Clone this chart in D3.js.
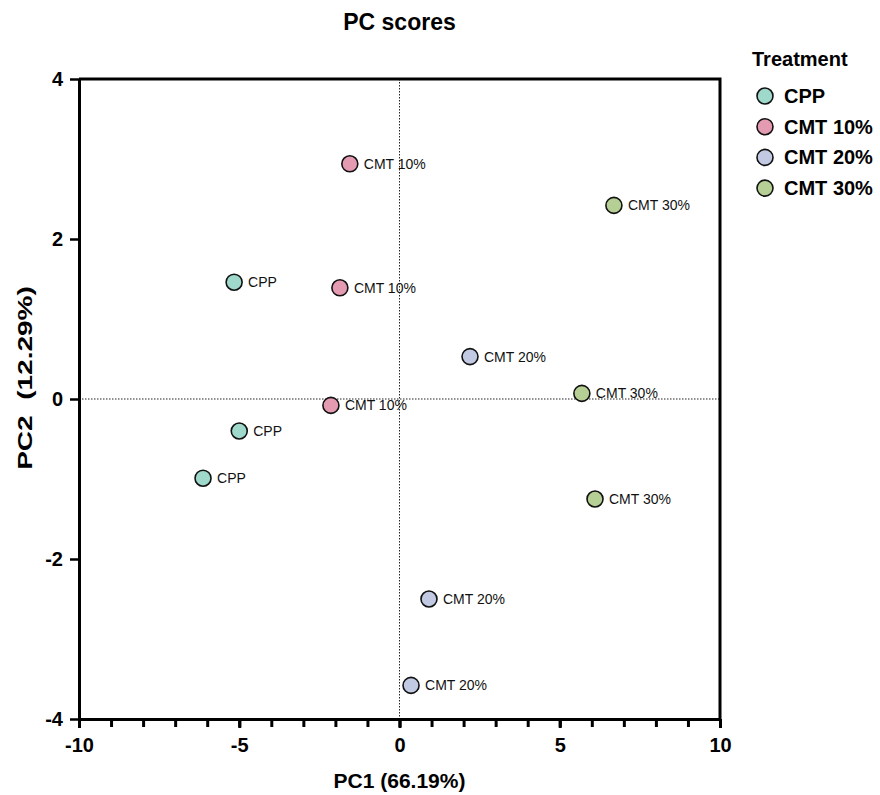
<!DOCTYPE html>
<html lang="en">
<head>
<meta charset="UTF-8">
<title>PC scores</title>
<script src="https://cdn.jsdelivr.net/npm/d3@7"></script>
<style>
  body { margin: 0; background: #fff; font-family: "Liberation Sans", Arial, sans-serif; }
</style>
</head>
<body>
<div id="chart"></div>
<script>
// Data
var groups = ["CPP", "CMT 10%", "CMT 20%", "CMT 30%"];
var colors = ["#9fd9cc", "#e49ab0", "#c2c9e3", "#b5cf94"];
var pointGroup = ["CPP", "CPP", "CPP",
                  "CMT 10%", "CMT 10%", "CMT 10%",
                  "CMT 20%", "CMT 20%", "CMT 20%",
                  "CMT 30%", "CMT 30%", "CMT 30%"];
var pc1 = [-5.16, -5.0, -6.13, -1.55, -1.86, -2.14, 2.2, 0.92, 0.36, 6.69, 5.69, 6.1];
var pc2 = [1.46, -0.4, -0.99, 2.94, 1.39, -0.08, 0.53, -2.5, -3.58, 2.42, 0.07, -1.25];
var xTicks = [-10, -5, 0, 5, 10];
var yTicks = [-4, -2, 0, 2, 4];

var W = 880, H = 795;
var margin = {top: 79, left: 79, right: 160, bottom: 76};
var width = W - margin.left - margin.right;
var height = H - margin.top - margin.bottom;

var svg = d3.select("#chart").append("svg")
    .attr("width", W).attr("height", H);

var g = svg.append("g")
    .attr("transform", "translate(" + margin.left + "," + margin.top + ")");

var x = d3.scaleLinear().domain([-10, 10]).range([0, width]);
var y = d3.scaleLinear().domain([-4, 4]).range([height, 0]);
var color = d3.scaleOrdinal().domain(groups).range(colors);

// zero lines (dotted)
g.append("line")
    .attr("x1", x(0)).attr("x2", x(0)).attr("y1", 0).attr("y2", height)
    .attr("stroke", "#222").attr("stroke-width", 1).attr("stroke-dasharray", "1.5,1.5");
g.append("line")
    .attr("x1", 0).attr("x2", width).attr("y1", y(0)).attr("y2", y(0))
    .attr("stroke", "#222").attr("stroke-width", 1).attr("stroke-dasharray", "1.5,1.5");

// frame top + right
g.append("path")
    .attr("d", "M0,0H" + width + "V" + height)
    .attr("fill", "none").attr("stroke", "#000").attr("stroke-width", 3);

var fmt = function (d) { return String(d); };

// x axis: minor ticks each unit, major labels every 5
var xMinor = g.append("g")
    .attr("transform", "translate(0," + height + ")")
    .call(d3.axisBottom(x).ticks(20).tickSize(8).tickFormat(""));
xMinor.select(".domain").remove();
xMinor.selectAll("line").attr("stroke-width", 3);

var xAxis = g.append("g")
    .attr("transform", "translate(0," + height + ")")
    .call(d3.axisBottom(x).tickValues(xTicks).tickFormat(fmt).tickSize(9).tickPadding(10).tickSizeOuter(0));
xAxis.select(".domain").attr("stroke-width", 3);
xAxis.selectAll("line").attr("stroke-width", 3);
xAxis.selectAll("text")
    .style("font-family", "Liberation Sans, Arial, sans-serif")
    .style("font-size", "20px").style("font-weight", "bold").attr("fill", "#000");

var yAxis = g.append("g")
    .call(d3.axisLeft(y).tickValues(yTicks).tickFormat(fmt).tickSize(9).tickPadding(7).tickSizeOuter(0));
yAxis.select(".domain").attr("stroke-width", 3);
yAxis.selectAll("line").attr("stroke-width", 2.5);
yAxis.selectAll("text")
    .style("font-family", "Liberation Sans, Arial, sans-serif")
    .style("font-size", "20px").style("font-weight", "bold").attr("fill", "#000");

// axis titles
g.append("text")
    .attr("x", width / 2).attr("y", height + 69)
    .attr("text-anchor", "middle")
    .style("font-size", "21px").style("font-weight", "bold")
    .text("PC1 (66.19%)");

// the reference y title is drawn stretched along its length
g.append("text")
    .attr("transform", "translate(-47,299) rotate(-90) scale(1.4,1)")
    .attr("text-anchor", "middle")
    .style("font-size", "20px").style("font-weight", "bold")
    .style("white-space", "pre")
    .text("PC2  (12.29%)");

// title
svg.append("text")
    .attr("x", margin.left + width / 2).attr("y", 30)
    .attr("text-anchor", "middle")
    .style("font-size", "23px").style("font-weight", "bold")
    .text("PC scores");

// points
var pts = pc1.map(function (v, i) { return {x: v, y: pc2[i], grp: pointGroup[i]}; });

var pg = g.append("g").selectAll("g")
    .data(pts).enter().append("g")
    .attr("transform", function (d) { return "translate(" + x(d.x) + "," + y(d.y) + ")"; });

pg.append("circle")
    .attr("r", 8)
    .attr("fill", function (d) { return color(d.grp); })
    .attr("stroke", "#111").attr("stroke-width", 1.6);

pg.append("text")
    .attr("x", 14).attr("y", 5)
    .style("font-size", "14px")
    .attr("fill", "#111")
    .text(function (d) { return d.grp; });

// legend
var leg = svg.append("g").attr("transform", "translate(754,0)");
leg.append("text")
    .attr("x", -2).attr("y", 66)
    .style("font-size", "20px").style("font-weight", "bold")
    .text("Treatment");

var items = leg.selectAll(".item").data(groups).enter().append("g")
    .attr("transform", function (d, i) { return "translate(0," + (96 + i * 30.7) + ")"; });
items.append("circle")
    .attr("cx", 11).attr("cy", 0).attr("r", 8)
    .attr("fill", function (d) { return color(d); })
    .attr("stroke", "#111").attr("stroke-width", 1.6);
items.append("text")
    .attr("x", 30).attr("y", 7)
    .style("font-size", "20px").style("font-weight", "bold")
    .text(function (d) { return d; });
</script>
</body>
</html>
